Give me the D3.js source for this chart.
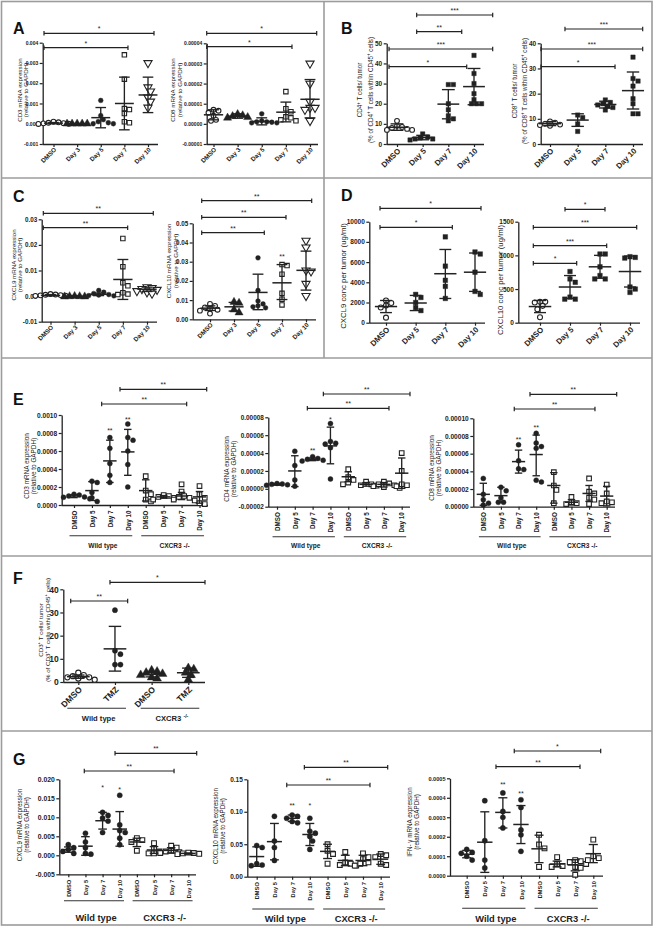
<!DOCTYPE html>
<html><head><meta charset="utf-8">
<script src="https://cdn.jsdelivr.net/npm/d3@7"></script>
<style>
body{margin:0;background:#fff}
svg{display:block}
</style>
</head><body>
<svg id="fig" width="654" height="927"></svg>
<script>
// ================= DATA =================
const catsTime5 = ["DMSO","Day 3","Day 5","Day 7","Day 10"];
const catsTime4 = ["DMSO","Day 5","Day 7","Day 10"];
const catsGeno8 = ["WT DMSO","WT Day 5","WT Day 7","WT Day 10","KO DMSO","KO Day 5","KO Day 7","KO Day 10"];
const labelsGeno8 = ["DMSO","Day 5","Day 7","Day 10","DMSO","Day 5","Day 7","Day 10"];
const catsF = ["WT DMSO","WT TMZ","KO DMSO","KO TMZ"];
const labelsF = ["DMSO","TMZ","DMSO","TMZ"];
const genoGroups8 = [["WT DMSO","WT Day 10","Wild type"],["KO DMSO","KO Day 10","CXCR3 -/-"]];
const genoGroupsF = [["WT DMSO","WT TMZ","Wild type"],["KO DMSO","KO TMZ","CXCR3 ^{-/-}"]];
const panelLetters = ["A","B","C","D","E","F","G"];

// A left: CD3 mRNA
const a1Ticks = ["-0.001","0.000","0.001","0.002","0.003","0.004"];
const a1Values = [[0.0001,0.00007,0.00005,0.00003,0.00002,0.0,-0.00001],[0,0,0,0,0],[0.00115,0.0004,0.0002,0.0001,0.00005,0.0,0.0],[0.0034,0.0022,0.00075,0.0007,0.0005,0.0001,0.00005],[0.0030,0.0018,0.0016,0.0013,0.0011,0.0008]];
const a1Mean = [0.00003,0.0,0.0003,0.001,0.00142];
const a1Hi = [0.00006,0.00001,0.0008,0.0023,0.0023];
const a1Lo = [0.0,-0.00001,-0.0002,-0.0003,0.00055];
const a1Sig = [["DMSO","Day 10","*"],["DMSO","Day 7","*"]];
const a1Title = ["CD3 mRNA expression","(relative to GAPDH)"];

// A right: CD8 mRNA
const a2Ticks = ["-0.00001","0.00000","0.00001","0.00002","0.00003","0.00004"];
const a2Values = [[0.7e-5,0.65e-5,0.55e-5,0.4e-5,0.2e-5,0.15e-5],[0.48e-5,0.42e-5,0.38e-5,0.33e-5,0.3e-5],[0.5e-5,0.15e-5,0.1e-5,0.08e-5,0.05e-5,0.05e-5,0.1e-5],[1.6e-5,0.75e-5,0.6e-5,0.35e-5,0.3e-5,0.2e-5,0.15e-5],[3.0e-5,2.0e-5,1.1e-5,0.8e-5,0.8e-5,0.7e-5,0.15e-5]];
const a2Mean = [0.45e-5,0.38e-5,0.12e-5,0.58e-5,1.22e-5];
const a2Hi = [0.7e-5,0.5e-5,0.3e-5,1.08e-5,2.2e-5];
const a2Lo = [0.2e-5,0.28e-5,-0.05e-5,0.1e-5,0.3e-5];
const a2Sig = [["DMSO","Day 10","*"],["DMSO","Day 7","*"]];
const a2Title = ["CD8 mRNA expression","(relative to GAPDH)"];

// B left: CD4+ T cells
const b1Ticks = ["0","10","20","30","40","50"];
const b1Values = [[11.5,9,8.5,8,7.5,7,7],[5,3.5,3,2.5,2.5,2],[29.5,29.5,20,17,14,12.5,11.5],[44,35,30,25,22,20,20,20]];
const b1Mean = [8.3,3.2,19.8,28.5];
const b1Hi = [10,4.3,27,37.5];
const b1Lo = [6.8,2.1,12.5,19.5];
const b1Sig = [["Day 5","Day 10","***"],["Day 5","Day 7","**"],["DMSO","Day 10","***"],["DMSO","Day 7","*"]];
const b1Title = ["CD4^{+} T cells/ tumor","(% of CD4^{+} T cells within CD45^{+} cells)"];

// B right: CD8+ T cells
const b2Ticks = ["0","10","20","30","40"];
const b2Values = [[9,8.5,8,7.7,7.5,7.2],[11.5,10.5,8,5],[17.5,16.5,16,15.5,15,14.5,13.5],[34.5,26,25,23,18,16,12,12]];
const b2Mean = [8.1,9.5,15.7,21.2];
const b2Hi = [8.9,12,17,28.6];
const b2Lo = [7.3,7,14.3,13.9];
const b2Sig = [["Day 5","Day 10","***"],["DMSO","Day 10","***"],["DMSO","Day 7","*"]];
const b2Title = ["CD8^{+} T cells/ tumor","(% of CD8^{+} T cells within CD45^{+} cells)"];

// C left: CXCL9 mRNA
const c1Ticks = ["-0.01","0.00","0.01","0.02","0.03"];
const c1Values = [[0.0008,0.0006,0.0005,0.0004,0.0003,0.0002,0.0001],[0.0,-0.0001,-0.0002,-0.0002,-0.0001],[0.0022,0.0015,0.001,0.0006,0.0004,0.0002,0.0001],[0.0225,0.0115,0.0052,0.004,0.0013,0.0008,0.0006],[0.0035,0.0032,0.0028,0.0025,0.002,0.0015,0.001]];
const c1Mean = [0.0003,-0.0001,0.0007,0.0065,0.0027];
const c1Hi = [0.0006,0.0001,0.0012,0.0143,0.0035];
const c1Lo = [0.0001,-0.0003,0.0002,-0.0013,0.0018];
const c1Sig = [["DMSO","Day 10","**"],["DMSO","Day 7","**"]];
const c1Title = ["CXCL9 mRNA expression","(relative to GAPDH)"];

// C right: CXCL10 mRNA
const c2Ticks = ["0.00","0.01","0.02","0.03","0.04","0.05"];
const c2Values = [[0.008,0.007,0.0062,0.0055,0.005,0.0045,0.003],[0.009,0.0085,0.005,0.0035],[0.032,0.015,0.0095,0.008,0.007,0.0065,0.006],[0.0285,0.028,0.0235,0.0135,0.0105,0.0075],[0.041,0.0375,0.0255,0.025,0.0185,0.0122]];
const c2Mean = [0.0058,0.0065,0.014,0.019,0.0255];
const c2Hi = [0.007,0.0088,0.0235,0.0285,0.0355];
const c2Lo = [0.0046,0.0043,0.005,0.0103,0.0152];
const c2Sig = [["DMSO","Day 10","**"],["DMSO","Day 7","**"],["DMSO","Day 5","**"]];
const c2Marks = [["Day 7","**"]];
const c2Title = ["CXCL10 mRNA expression","(relative to GAPDH)"];

// D left: CXCL9 protein
const d1Ticks = ["0","2000","4000","6000","8000","10000"];
const d1Values = [[2200,1950,1700,1500,500],[2800,2500,2000,1500,1200],[8500,5600,4200,3600,2400],[7000,6800,5000,3100,2800]];
const d1Mean = [1600,1950,4850,5000];
const d1Hi = [2200,2700,7250,6900];
const d1Lo = [1000,1200,2400,3100];
const d1Sig = [["DMSO","Day 10","*"],["DMSO","Day 7","*"]];
const d1Title = ["CXCL9 conc per tumor (ug/ml)"];

// D right: CXCL10 protein
const d2Ticks = ["0","500","1000","1500"];
const d2Values = [[310,310,300,250,200,80],[760,650,600,380,350,350],[1020,1020,830,700,650,650],[980,970,960,530,500,450]];
const d2Mean = [240,530,830,760];
const d2Hi = [330,700,1000,990];
const d2Lo = [150,360,660,530];
const d2Sig = [["Day 5","Day 7","*"],["DMSO","Day 10","***"],["DMSO","Day 7","***"],["DMSO","Day 5","*"]];
const d2Title = ["CXCL10 conc per tumor (ug/ml)"];

// E left: CD3 mRNA, WT vs CXCR3-/-
const e1Ticks = ["0.0000","0.0002","0.0004","0.0006","0.0008","0.0010"];
const e1Values = [[1.2e-4,1.1e-4,1.0e-4,0.9e-4,0.85e-4,0.7e-4],[2.65e-4,2.5e-4,1.4e-4,0.8e-4,0.4e-4],[7.5e-4,6.3e-4,4.6e-4,3.3e-4,2.5e-4],[9.0e-4,7.5e-4,7.2e-4,6.0e-4,4.5e-4,2.0e-4],[3.2e-4,1.6e-4,1.2e-4,0.6e-4,0.4e-4],[1.1e-4,1.0e-4,0.9e-4,0.8e-4,0.6e-4],[2.3e-4,1.5e-4,1.0e-4,0.9e-4,0.8e-4,0.6e-4,0.5e-4],[2.1e-4,1.2e-4,0.8e-4,0.2e-4,0.1e-4]];
const e1Mean = [1.0e-4,1.6e-4,4.9e-4,5.9e-4,1.6e-4,0.9e-4,1.0e-4,0.9e-4];
const e1Hi = [1.15e-4,2.6e-4,7.2e-4,8.4e-4,2.8e-4,1.05e-4,1.4e-4,1.5e-4];
const e1Lo = [0.82e-4,0.5e-4,2.5e-4,3.3e-4,0.45e-4,0.75e-4,0.6e-4,0.2e-4];
const e1Sig = [["WT Day 10","KO Day 10","**"],["WT Day 7","KO Day 7","**"]];
const e1Marks = [["WT Day 7","**"],["WT Day 10","**"]];
const e1Title = ["CD3 mRNA expression","(relative to GAPDH)"];

// E middle: CD4 mRNA
const e2Ticks = ["-0.00002","0.00000","0.00002","0.00004","0.00006","0.00008"];
const e2Values = [[0.6e-5,0.55e-5,0.5e-5,0.45e-5,0.4e-5],[4.2e-5,2.6e-5,1.0e-5,0.3e-5],[3.6e-5,3.4e-5,3.3e-5,3.2e-5,3.1e-5],[7.3e-5,5.3e-5,5.1e-5,5.0e-5,4.6e-5,1.1e-5],[2.2e-5,1.3e-5,1.0e-5,0.7e-5,0.5e-5],[0.8e-5,0.5e-5,0.4e-5,0.35e-5],[0.8e-5,0.6e-5,0.5e-5,0.4e-5,0.3e-5,0.2e-5,0.1e-5],[4.0e-5,2.0e-5,0.5e-5,0.4e-5,0.3e-5]];
const e2Mean = [0.5e-5,2.0e-5,3.3e-5,4.8e-5,1.35e-5,0.5e-5,0.5e-5,1.75e-5];
const e2Hi = [0.6e-5,3.7e-5,3.45e-5,6.9e-5,1.9e-5,0.7e-5,0.7e-5,3.45e-5];
const e2Lo = [0.4e-5,0.25e-5,3.15e-5,2.8e-5,0.8e-5,0.3e-5,0.2e-5,0.05e-5];
const e2Sig = [["WT Day 10","KO Day 10","**"],["WT Day 7","KO Day 7","**"]];
const e2Marks = [["WT Day 7","**"],["WT Day 10","*"]];
const e2Title = ["CD4 mRNA expression","(relative to GAPDH)"];

// E right: CD8 mRNA
const e3Ticks = ["0.00000","0.00002","0.00004","0.00006","0.00008","0.00010"];
const e3Values = [[3.2e-5,1.4e-5,0.8e-5,0.4e-5,0.2e-5],[2.2e-5,1.8e-5,1.0e-5,0.5e-5,0.5e-5],[7.0e-5,5.2e-5,4.3e-5,4.2e-5],[8.3e-5,7.2e-5,6.8e-5,6.6e-5,3.0e-5,2.8e-5],[3.9e-5,2.4e-5,1.9e-5,0.4e-5],[1.1e-5,0.5e-5,0.4e-5,0.3e-5],[3.2e-5,1.7e-5,1.5e-5,1.0e-5,0.8e-5,0.3e-5],[2.5e-5,1.5e-5,0.6e-5,0.5e-5,0.4e-5]];
const e3Mean = [1.4e-5,1.25e-5,5.1e-5,5.9e-5,2.4e-5,0.5e-5,1.5e-5,1.2e-5];
const e3Hi = [2.65e-5,2.2e-5,6.4e-5,8.1e-5,3.85e-5,0.8e-5,2.4e-5,2.3e-5];
const e3Lo = [0.15e-5,0.5e-5,3.8e-5,3.5e-5,0.4e-5,0.2e-5,0.6e-5,0.1e-5];
const e3Sig = [["WT Day 10","KO Day 10","**"],["WT Day 7","KO Day 7","**"]];
const e3Marks = [["WT Day 7","**"],["WT Day 10","**"]];
const e3Title = ["CD8 mRNA expression","(relative to GAPDH)"];

// F: CD3+ T cells, TMZ
const fTicks = ["0","10","20","30","40"];
const fValues = [[4,3,2.5,2,2,1.5,1],[31,13.5,12,7.5,7.5],[5,4.5,4,3.5,3,2,1.5],[6,5.5,4,3,1]];
const fMean = [2.3,14.3,3.3,4];
const fHi = [3.0,24,4.4,6];
const fLo = [1.6,4.7,2.2,2];
const fSig = [["WT DMSO","WT TMZ","**"],["WT TMZ","KO TMZ","*"]];
const fTitle = ["CD3^{+} T cells/ tumor","(% of CD3^{+} T cells within CD45^{+} cells)"];

// G left: CXCL9 mRNA
const g1Ticks = ["-0.005","0.000","0.005","0.010","0.015","0.020"];
const g1Values = [[0.0028,0.0020,0.0015,0.0010,0.0005],[0.0058,0.0035,0.0020,0.0005,0.0003],[0.0113,0.0105,0.0098,0.0090,0.0060],[0.0158,0.0080,0.0065,0.0060,0.0045,0.0028],[0.0045,0.0040,0.0035,0.0012],[0.0032,0.0018,0.0010,0.0005,0.0005],[0.0025,0.0020,0.0012,0.0010,0.0008,0.0006],[0.0007,0.0006,0.0005,0.0004,0.0003]];
const g1Mean = [0.0015,0.0024,0.0091,0.0069,0.0035,0.0014,0.0013,0.0005];
const g1Hi = [0.0022,0.0049,0.0113,0.0115,0.0045,0.0023,0.0020,0.0006];
const g1Lo = [0.0008,0.0000,0.0069,0.0024,0.0023,0.0005,0.0006,0.0003];
const g1Sig = [["WT Day 10","KO Day 10","**"],["WT Day 7","KO Day 7","**"]];
const g1Marks = [["WT Day 7","*"],["WT Day 10","*"]];
const g1Title = ["CXCL9 mRNA expression","(relative to GAPDH)"];

// G middle: CXCL10 mRNA
const g2Ticks = ["0.00","0.05","0.10","0.15"];
const g2Values = [[0.048,0.045,0.02,0.018,0.017],[0.093,0.055,0.045,0.025],[0.095,0.093,0.09,0.085,0.083],[0.09,0.07,0.067,0.062,0.055,0.042],[0.05,0.04,0.035,0.02],[0.038,0.022,0.02,0.018,0.017],[0.036,0.03,0.027,0.022,0.02,0.017],[0.035,0.033,0.03,0.02,0.018]];
const g2Mean = [0.031,0.054,0.09,0.065,0.039,0.025,0.025,0.027];
const g2Hi = [0.046,0.082,0.095,0.082,0.05,0.033,0.033,0.035];
const g2Lo = [0.016,0.026,0.085,0.048,0.028,0.017,0.017,0.019];
const g2Sig = [["WT Day 10","KO Day 10","**"],["WT Day 7","KO Day 7","**"]];
const g2Marks = [["WT Day 7","**"],["WT Day 10","*"]];
const g2Title = ["CXCL10 mRNA expression","(relative to GAPDH)"];

// G right: IFN-gamma mRNA
const g3Ticks = ["0.0000","0.0001","0.0002","0.0003","0.0004","0.0005"];
const g3Values = [[1.35e-4,1.2e-4,1.15e-4,1.0e-4,0.8e-4],[3.85e-4,1.8e-4,0.8e-4,0.4e-4],[4.25e-4,3.3e-4,3.0e-4,2.45e-4],[3.9e-4,3.5e-4,2.35e-4,2.1e-4,1.25e-4],[2.1e-4,1.6e-4,1.4e-4,0.45e-4],[0.95e-4,0.6e-4,0.5e-4,0.45e-4],[0.8e-4,0.75e-4,0.7e-4,0.6e-4,0.45e-4,0.4e-4,0.05e-4],[1.85e-4,1.0e-4,0.9e-4,0.8e-4]];
const g3Mean = [1.1e-4,1.72e-4,3.25e-4,2.63e-4,1.38e-4,0.6e-4,0.55e-4,1.13e-4];
const g3Hi = [1.3e-4,3.28e-4,4.0e-4,3.6e-4,2.08e-4,0.75e-4,0.82e-4,1.6e-4];
const g3Lo = [0.92e-4,0.17e-4,2.45e-4,1.65e-4,0.67e-4,0.45e-4,0.25e-4,0.67e-4];
const g3Sig = [["WT Day 10","KO Day 10","*"],["WT Day 7","KO Day 7","**"]];
const g3Marks = [["WT Day 7","**"],["WT Day 10","**"]];
const g3Title = ["IFN- \u03b3 mRNA expression","(relative to GAPDH)"];

// ================= LAYOUT (positions / styles) =================
const FONT = '"Liberation Sans", Arial, Helvetica, sans-serif';
const INK = "#222";
const mk5 = ["co","tf","cf","so","tdo"];
const mkB = ["co","sf","sf","sf"];
const mkGeno = ["cf","cf","cf","cf","so","so","so","so"];
const LAYOUT = {
  a1:{ax:42.7,yTop:42.7,yBot:144,c0:53.5,cN:148,xEnd:158,xl:"45",xlSize:6.3,tickSize:5,r:2.4,mk:mk5,meanW:.8,capW:.45,
      bars:[[33.3,-9.5,6],[47.7,-9.5,3.6]],titleX:[21.6,28.2],titleY:90,titleSize:6.2},
  a2:{ax:206.7,yTop:43.3,yBot:144,c0:213.5,cN:310,xEnd:318,xl:"45",xlSize:6.3,tickSize:5,r:2.4,mk:mk5,meanW:.8,capW:.45,
      bars:[[33.3,-6.8,6.7],[46.7,-6.8,6.1]],titleX:[175,181.6],titleY:90,titleSize:6.2},
  b1:{ax:386.7,yTop:43.3,yBot:144,c0:397,cN:474,xEnd:484,xl:"45",xlSize:7.8,tickSize:6.5,r:2.4,mk:mkB,meanW:.85,capW:.5,
      bars:[[15,-6,18.7],[31.7,-6,13.4],[49,-8,18.7],[66.7,-8,18.4]],titleX:[362,372.5],titleY:90,titleSize:6.3},
  b2:{ax:540.7,yTop:43.3,yBot:144,c0:550,cN:633,xEnd:643,xl:"45",xlSize:7.8,tickSize:6.5,r:2.4,mk:mkB,meanW:.8,capW:.45,
      bars:[[29,-12.7,9.7],[49,-9,9.7],[66.7,-9,9.7]],titleX:[516.5,526.5],titleY:91,titleSize:6.3},
  c1:{ax:41.7,yTop:219.3,yBot:321.7,c0:50.5,cN:147,xEnd:157,xl:"45",xlSize:6.3,tickSize:6.3,r:2.4,mk:mk5,meanW:.8,capW:.45,
      bars:[[213.3,-7.2,6.3],[227.7,-7.2,4.8]],titleX:[15.8,22.4],titleY:265,titleSize:6.2},
  c2:{ax:192.7,yTop:223.3,yBot:319.3,c0:210,cN:306,xEnd:316,xl:"45",xlSize:6.3,tickSize:6.3,r:2.4,mk:mk5,meanW:.8,capW:.45,
      bars:[[200.7,-8.3,5.7],[217.3,-8.3,4],[232.7,-8.3,6.3]],marks:[255],titleX:[171,177.6],titleY:261,titleSize:6.2},
  d1:{ax:369.3,yTop:221.7,yBot:322.7,c0:386,cN:475,xEnd:485,xl:"45",xlSize:7.8,tickSize:6.5,r:2.5,mk:mkB,meanW:.75,capW:.4,
      bars:[[208.3,-6,6],[227.3,-6,7]],titleX:[346],titleY:276,titleSize:7.8},
  d2:{ax:518.3,yTop:221.7,yBot:322.7,c0:540,cN:630,xEnd:640,xl:"45",xlSize:7.8,tickSize:6.5,r:2.5,mk:mkB,meanW:.75,capW:.4,
      bars:[[209.3,-5,5],[227.3,-6.7,6.7],[245.7,-6.7,6.7],[263.3,-6.7,6.7]],titleX:[503],titleY:280,titleSize:7.8},
  e1:{ax:61.7,yTop:415,yBot:505,c0:74,cN:199.5,xEnd:208,xl:"90",xlSize:6.3,tickSize:6.6,r:2.5,mk:mkGeno,meanW:.75,capW:.42,
      bars:[[389.3,-7.8,7.2],[404,-8.2,5.1]],marks:[429,417.7],titleX:[29.4,36.2],titleY:466,titleSize:6.4,
      grp:{lineY:535.7,textY:548.3,pad:.25,size:6.6}},
  e2:{ax:268.3,yTop:417.3,yBot:506.7,c0:277,cN:401.7,xEnd:410,xl:"90",xlSize:6.3,tickSize:6.4,r:2.5,mk:mkGeno,meanW:.75,capW:.42,
      bars:[[394,-7.1,8.3],[408.3,-5.3,5.1]],marks:[449,418.3],titleX:[228.8,235.6],titleY:469,titleSize:6.4,
      grp:{lineY:536.7,textY:548.3,pad:.25,size:6.6}},
  e3:{ax:473.3,yTop:418.3,yBot:506.7,c0:483.3,cN:606.7,xEnd:615,xl:"90",xlSize:6.3,tickSize:6.6,r:2.5,mk:mkGeno,meanW:.75,capW:.42,
      bars:[[394.3,-6.2,10],[409,-4.3,5.9]],marks:[438.3,425.7],titleX:[433.8,440.6],titleY:468,titleSize:6.4,
      grp:{lineY:536.7,textY:548.3,pad:.25,size:6.6}},
  f:{ax:63.3,yTop:589.3,yBot:682,c0:78.3,cN:188.3,xEnd:205,xl:"45",xlSize:8.5,tickSize:8.5,r:2.6,mk:["co","cf","tf","tf"],meanW:.62,capW:.34,
      bars:[[601,-7.6,12.7],[582.3,-5,16.7]],titleX:[42.8,49.8],titleY:630,titleSize:6.2,
      grp:{lineY:708.3,textY:721.3,pad:.3,size:7.6}},
  g1:{ax:59.3,yTop:779.3,yBot:874.3,c0:68.3,cN:188.3,xEnd:196,xl:"90",xlSize:5.7,tickSize:6.8,r:2.6,mk:mkGeno,meanW:.85,capW:.5,
      bars:[[753.3,-4.7,8.4],[771,-18.3,2.9]],marks:[786,787.7],titleX:[22.4,29],titleY:825,titleSize:6.3},
  g2:{ax:247.3,yTop:779.3,yBot:876.7,c0:256.7,cN:380.7,xEnd:390,xl:"90",xlSize:5.7,tickSize:6.5,r:2.6,mk:mkGeno,meanW:.85,capW:.5,
      bars:[[767.3,-5.5,7],[785,-5.4,7]],marks:[804,804.3],titleX:[218,225],titleY:826,titleSize:6.3},
  g3:{ax:450,yTop:778.3,yBot:875.7,c0:466.7,cN:593.3,xEnd:603,xl:"90",xlSize:5.7,tickSize:5.6,r:2.6,mk:mkGeno,meanW:.85,capW:.5,
      bars:[[751,-6.7,7.4],[766.7,-6.9,4.8]],marks:[782.7,792.3],titleX:[411.8,419],titleY:822,titleSize:6.3}
};
LAYOUT.g1.grp = {lineY:900.7,textY:920.5,pad:.25,size:9.3};
LAYOUT.g2.grp = {lineY:909,textY:921.5,pad:.25,size:9.3};
LAYOUT.g3.grp = {lineY:908.3,textY:921.5,pad:.25,size:9.3};
const letterPos = [[13,33.5],[341,33.5],[13,201.5],[341,200.5],[13,405],[13,583.5],[13,765]];

// ================= DRAWING =================
const svg = d3.select("#fig");
svg.append("rect").attr("width",654).attr("height",927).attr("fill","#fff");

// frame
const frame = svg.append("g").attr("stroke","#9c9c9c").attr("stroke-width",1.6).attr("fill","none");
frame.append("rect").attr("x",1.5).attr("y",1.5).attr("width",650.5).attr("height",923.5);
[178,358,556,731].forEach(yy=>frame.append("line").attr("x1",1.5).attr("x2",652).attr("y1",yy).attr("y2",yy));
frame.append("line").attr("x1",324).attr("x2",324).attr("y1",1.5).attr("y2",358);

function rich(sel, str, fs){
  const parts = str.split(/(\^\{[^}]*\})/).filter(p=>p.length);
  let shifted = false;
  parts.forEach(p=>{
    const m = p.match(/^\^\{(.*)\}$/);
    if (m){
      sel.append("tspan").attr("dy", -fs*0.38).attr("font-size", fs*0.7).text(m[1]);
      shifted = true;
    } else {
      const t = sel.append("tspan").text(p);
      if (shifted){ t.attr("dy", fs*0.38); shifted = false; }
    }
  });
}

function sym(code, r){
  const area = Math.PI*r*r;
  if (code[0]==="c") return d3.symbol(d3.symbolCircle, area)();
  if (code[0]==="s") return d3.symbol(d3.symbolSquare, 3.4*r*r)();
  return d3.symbol(d3.symbolTriangle, 1.6*area)();
}

function dodge(vals, cx, y, r){
  const placed = [], out = new Array(vals.length);
  const order = vals.map((v,i)=>i).sort((a,b)=>vals[b]-vals[a]);
  const dmin = 2*r*0.92, dx = r*1.05;
  order.forEach(i=>{
    const py = y(vals[i]);
    for (let k=0;k<60;k++){
      const off = k===0 ? 0 : (k%2 ? 1 : -1)*Math.ceil(k/2)*dx;
      const px = cx + off;
      if (placed.every(p=>Math.hypot(p[0]-px,p[1]-py) >= dmin)){
        placed.push([px,py]); out[i] = [px,py]; break;
      }
    }
  });
  return out;
}

function drawPlot(D, L){
  const g = svg.append("g");
  const tv = D.ticks.map(Number);
  const y = d3.scaleLinear().domain([tv[0], tv[tv.length-1]]).range([L.yBot, L.yTop]);
  const x = d3.scalePoint().domain(D.cats).range([L.c0, L.cN]);
  const step = x.step();

  // y axis
  const ya = g.append("g").attr("transform",`translate(${L.ax},0)`)
    .call(d3.axisLeft(y).tickValues(tv).tickFormat((v,i)=>D.ticks[i]).tickSize(3).tickSizeOuter(0).tickPadding(1.5));
  ya.attr("font-family",FONT).attr("font-size",L.tickSize).attr("font-weight","bold");
  ya.select(".domain").attr("stroke",INK).attr("stroke-width",1.3);
  ya.selectAll(".tick line").attr("stroke",INK).attr("stroke-width",1.2);
  ya.selectAll(".tick text").attr("fill",INK);

  // x axis
  const xa = g.append("g").attr("transform",`translate(0,${L.yBot})`)
    .call(d3.axisBottom(x).tickSize(3).tickSizeOuter(0).tickFormat((c,i)=>D.labels[i]));
  xa.attr("font-family",FONT).attr("font-size",L.xlSize).attr("font-weight","bold");
  xa.select(".domain").attr("d",`M${L.ax},0.5H${L.xEnd}`).attr("stroke",INK).attr("stroke-width",1.3);
  xa.selectAll(".tick line").attr("stroke",INK).attr("stroke-width",1.2);
  const xt = xa.selectAll(".tick text").attr("fill",INK).attr("x",0).attr("y",0).attr("dy",0).attr("text-anchor","end");
  if (L.xl === "45") xt.attr("transform",`translate(${L.xlSize*0.45},${L.xlSize*0.95}) rotate(-45)`);
  else xt.attr("transform",`translate(${L.xlSize*0.36},5.5) rotate(-90)`);

  // points
  const pg = g.append("g");
  D.cats.forEach((c,i)=>{
    const code = L.mk[i];
    const pos = dodge(D.values[i], x(c), y, L.r);
    const filled = code.endsWith("f");
    pg.selectAll(null).data(pos).join("path")
      .attr("d", sym(code, L.r))
      .attr("transform", p=>`translate(${p[0]},${p[1]})${code==="tdo"?" rotate(180)":""}`)
      .attr("fill", filled ? INK : "#fff")
      .attr("stroke", INK).attr("stroke-width", filled ? 0.4 : 1.1);
  });

  // mean and SD
  const summ = D.cats.map((c,i)=>({c, m:D.mean[i], hi:D.hi[i], lo:D.lo[i]}));
  const eg = g.append("g").attr("stroke",INK).attr("stroke-width",1.35).attr("fill","none");
  const mw = step*L.meanW/2, cw = step*L.capW/2;
  eg.selectAll(".mn").data(summ).join("line").attr("class","mn")
    .attr("x1",d=>x(d.c)-mw).attr("x2",d=>x(d.c)+mw).attr("y1",d=>y(d.m)).attr("y2",d=>y(d.m)).attr("stroke-width",1.5);
  eg.selectAll(".vb").data(summ).join("line").attr("class","vb")
    .attr("x1",d=>x(d.c)).attr("x2",d=>x(d.c)).attr("y1",d=>y(d.hi)).attr("y2",d=>y(d.lo));
  eg.selectAll(".ch").data(summ).join("line").attr("class","ch")
    .attr("x1",d=>x(d.c)-cw).attr("x2",d=>x(d.c)+cw).attr("y1",d=>y(d.hi)).attr("y2",d=>y(d.hi));
  eg.selectAll(".cl").data(summ).join("line").attr("class","cl")
    .attr("x1",d=>x(d.c)-cw).attr("x2",d=>x(d.c)+cw).attr("y1",d=>y(d.lo)).attr("y2",d=>y(d.lo));

  // significance brackets
  const sg = g.append("g");
  D.sig.forEach((s,k)=>{
    const [yy, d1, d2] = L.bars[k];
    const x1 = x(s[0])+d1, x2 = x(s[1])+d2;
    sg.append("path").attr("d",`M${x1},${yy-2.2}V${yy+2.2}M${x1},${yy}H${x2}M${x2},${yy-2.2}V${yy+2.2}`)
      .attr("stroke",INK).attr("stroke-width",1.2).attr("fill","none");
    sg.append("text").attr("x",(x1+x2)/2).attr("y",yy-2.2).attr("text-anchor","middle")
      .attr("font-family",FONT).attr("font-size",7).attr("fill",INK).text(s[2]);
  });
  (D.marks||[]).forEach((m,k)=>{
    g.append("text").attr("x",x(m[0])).attr("y",L.marks[k]+4).attr("text-anchor","middle")
      .attr("font-family",FONT).attr("font-size",7).attr("fill",INK).text(m[1]);
  });

  // genotype groups
  if (D.groups){
    D.groups.forEach(([a,b,label])=>{
      const x1 = x(a)-L.grp.pad*step, x2 = x(b)+L.grp.pad*step;
      g.append("line").attr("x1",x1).attr("x2",x2).attr("y1",L.grp.lineY).attr("y2",L.grp.lineY)
        .attr("stroke","#333").attr("stroke-width",1.1);
      const t = g.append("text").attr("x",(x1+x2)/2+2).attr("y",L.grp.textY).attr("text-anchor","middle")
        .attr("font-family",FONT).attr("font-size",L.grp.size).attr("font-weight","bold").attr("fill",INK);
      rich(t, label, L.grp.size);
    });
  }

  // y titles
  D.title.forEach((t,k)=>{
    const te = g.append("text").attr("transform",`translate(${L.titleX[k]},${L.titleY}) rotate(-90)`)
      .attr("text-anchor","middle").attr("font-family",FONT).attr("font-size",L.titleSize).attr("fill",INK);
    rich(te, t, L.titleSize);
  });
}

const plots = [
  ["a1",{cats:catsTime5,labels:catsTime5,ticks:a1Ticks,values:a1Values,mean:a1Mean,hi:a1Hi,lo:a1Lo,sig:a1Sig,title:a1Title}],
  ["a2",{cats:catsTime5,labels:catsTime5,ticks:a2Ticks,values:a2Values,mean:a2Mean,hi:a2Hi,lo:a2Lo,sig:a2Sig,title:a2Title}],
  ["b1",{cats:catsTime4,labels:catsTime4,ticks:b1Ticks,values:b1Values,mean:b1Mean,hi:b1Hi,lo:b1Lo,sig:b1Sig,title:b1Title}],
  ["b2",{cats:catsTime4,labels:catsTime4,ticks:b2Ticks,values:b2Values,mean:b2Mean,hi:b2Hi,lo:b2Lo,sig:b2Sig,title:b2Title}],
  ["c1",{cats:catsTime5,labels:catsTime5,ticks:c1Ticks,values:c1Values,mean:c1Mean,hi:c1Hi,lo:c1Lo,sig:c1Sig,title:c1Title}],
  ["c2",{cats:catsTime5,labels:catsTime5,ticks:c2Ticks,values:c2Values,mean:c2Mean,hi:c2Hi,lo:c2Lo,sig:c2Sig,marks:c2Marks,title:c2Title}],
  ["d1",{cats:catsTime4,labels:catsTime4,ticks:d1Ticks,values:d1Values,mean:d1Mean,hi:d1Hi,lo:d1Lo,sig:d1Sig,title:d1Title}],
  ["d2",{cats:catsTime4,labels:catsTime4,ticks:d2Ticks,values:d2Values,mean:d2Mean,hi:d2Hi,lo:d2Lo,sig:d2Sig,title:d2Title}],
  ["e1",{cats:catsGeno8,labels:labelsGeno8,ticks:e1Ticks,values:e1Values,mean:e1Mean,hi:e1Hi,lo:e1Lo,sig:e1Sig,marks:e1Marks,title:e1Title,groups:genoGroups8}],
  ["e2",{cats:catsGeno8,labels:labelsGeno8,ticks:e2Ticks,values:e2Values,mean:e2Mean,hi:e2Hi,lo:e2Lo,sig:e2Sig,marks:e2Marks,title:e2Title,groups:genoGroups8}],
  ["e3",{cats:catsGeno8,labels:labelsGeno8,ticks:e3Ticks,values:e3Values,mean:e3Mean,hi:e3Hi,lo:e3Lo,sig:e3Sig,marks:e3Marks,title:e3Title,groups:genoGroups8}],
  ["f",{cats:catsF,labels:labelsF,ticks:fTicks,values:fValues,mean:fMean,hi:fHi,lo:fLo,sig:fSig,title:fTitle,groups:genoGroupsF}],
  ["g1",{cats:catsGeno8,labels:labelsGeno8,ticks:g1Ticks,values:g1Values,mean:g1Mean,hi:g1Hi,lo:g1Lo,sig:g1Sig,marks:g1Marks,title:g1Title,groups:genoGroups8}],
  ["g2",{cats:catsGeno8,labels:labelsGeno8,ticks:g2Ticks,values:g2Values,mean:g2Mean,hi:g2Hi,lo:g2Lo,sig:g2Sig,marks:g2Marks,title:g2Title,groups:genoGroups8}],
  ["g3",{cats:catsGeno8,labels:labelsGeno8,ticks:g3Ticks,values:g3Values,mean:g3Mean,hi:g3Hi,lo:g3Lo,sig:g3Sig,marks:g3Marks,title:g3Title,groups:genoGroups8}]
];
plots.forEach(([key, D])=>drawPlot(D, LAYOUT[key]));

// panel letters
svg.append("g").selectAll("text").data(panelLetters).join("text")
  .attr("x",(d,i)=>letterPos[i][0]).attr("y",(d,i)=>letterPos[i][1])
  .attr("font-family",FONT).attr("font-size",16).attr("font-weight","bold").attr("fill","#111").text(d=>d);
</script>
</body></html>
